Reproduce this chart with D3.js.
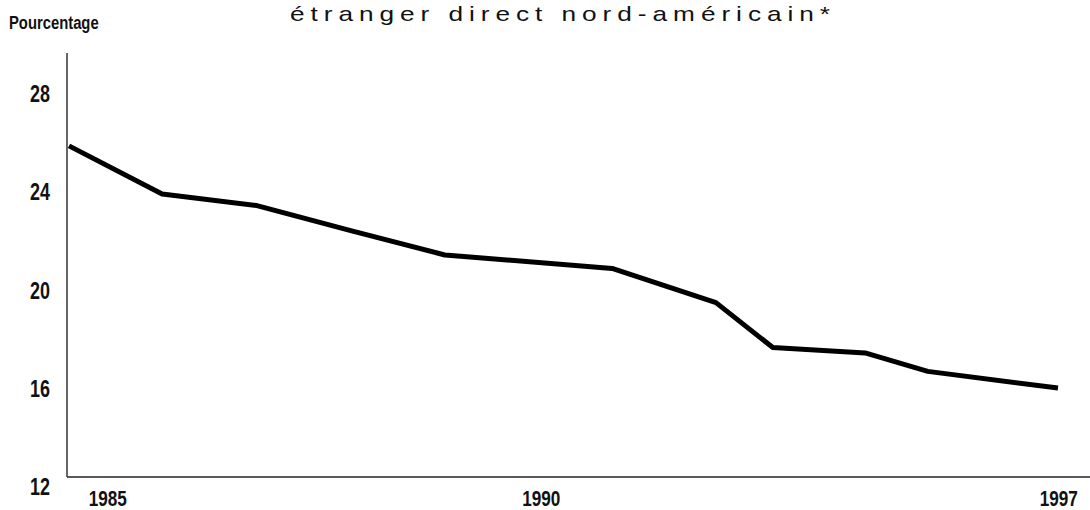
<!DOCTYPE html>
<html>
<head>
<meta charset="utf-8" />
<script src="https://d3js.org/d3.v7.min.js"></script>
<style>
  body { margin: 0; background: #fff; }
  svg { display: block; }
  .narrow { font-family: "Liberation Sans", Arial, sans-serif; font-weight: bold; fill: #111; }
</style>
</head>
<body>
<div id="chart"></div>
<script>
// periods (fractional years) and share in percent
var periods = [1985.0, 1986.13, 1987.28, 1988.43, 1989.56, 1991.59, 1992.85, 1993.54, 1994.66, 1995.42, 1997.0];
var shares  = [25.48, 23.52, 23.05, 22.02, 21.04, 20.49, 19.10, 17.27, 17.05, 16.30, 15.62];

var yTicks = [12, 16, 20, 24, 28];
var xTickLabels = ["1985", "1990", "1997"];
var xTickAt = [1985.47, 1990.73, 1997.01];

var titleText = "étranger direct nord-américain*";
var yLabel = "Pourcentage";

var width = 1090, height = 510;
var squeeze = 0.78; // condensed look for the bold labels
var stretch = 1.25; // extended look for the title

var svg = d3.select("#chart").append("svg")
    .attr("width", width)
    .attr("height", height);

var x = d3.scaleLinear().domain([1985, 1997]).range([69, 1058]);
var y = d3.scaleLinear().domain([12, 28]).range([477, 84]);

// helper: bold condensed text placed at (px, py)
function narrowText(sel, px, py, size, anchor) {
  return sel.attr("class", "narrow")
    .attr("transform", function(d, i) {
      return "translate(" + px(d, i) + "," + py(d, i) + ") scale(" + squeeze + ",1)";
    })
    .attr("text-anchor", anchor)
    .style("font-size", size + "px");
}

// title (cut off at the top like the original)
svg.append("text")
    .attr("transform", "translate(290,21) scale(" + stretch + ",1)")
    .attr("textLength", 540 / stretch)
    .attr("lengthAdjust", "spacing")
    .style("font-family", "'Liberation Sans', Arial, sans-serif")
    .style("font-size", "21px")
    .style("fill", "#111")
    .text(titleText);

narrowText(svg.append("text"), function() { return 9; }, function() { return 29; }, 19, "start")
    .text(yLabel);

// axes lines
svg.append("line")
    .attr("x1", 67).attr("x2", 67)
    .attr("y1", 53).attr("y2", y(12))
    .attr("stroke", "#333").attr("stroke-width", 1.5);

svg.append("line")
    .attr("x1", 67).attr("x2", width)
    .attr("y1", y(12)).attr("y2", y(12))
    .attr("stroke", "#222").attr("stroke-width", 1.5);

// y tick labels
narrowText(svg.selectAll(".ylab").data(yTicks).enter().append("text"),
    function() { return 50; },
    function(d) { return y(d) + 18; }, 23, "end")
    .text(function(d) { return d; });

// x tick labels
narrowText(svg.selectAll(".xlab").data(xTickLabels).enter().append("text"),
    function(d, i) { return x(xTickAt[i]); },
    function() { return 506; }, 22, "middle")
    .text(function(d) { return d; });

// the line
var line = d3.line()
    .x(function(d, i) { return x(periods[i]); })
    .y(function(d) { return y(d); });

svg.append("path")
    .datum(shares)
    .attr("d", line)
    .attr("fill", "none")
    .attr("stroke", "#000")
    .attr("stroke-width", 5)
    .attr("stroke-linejoin", "round");
</script>
</body>
</html>
